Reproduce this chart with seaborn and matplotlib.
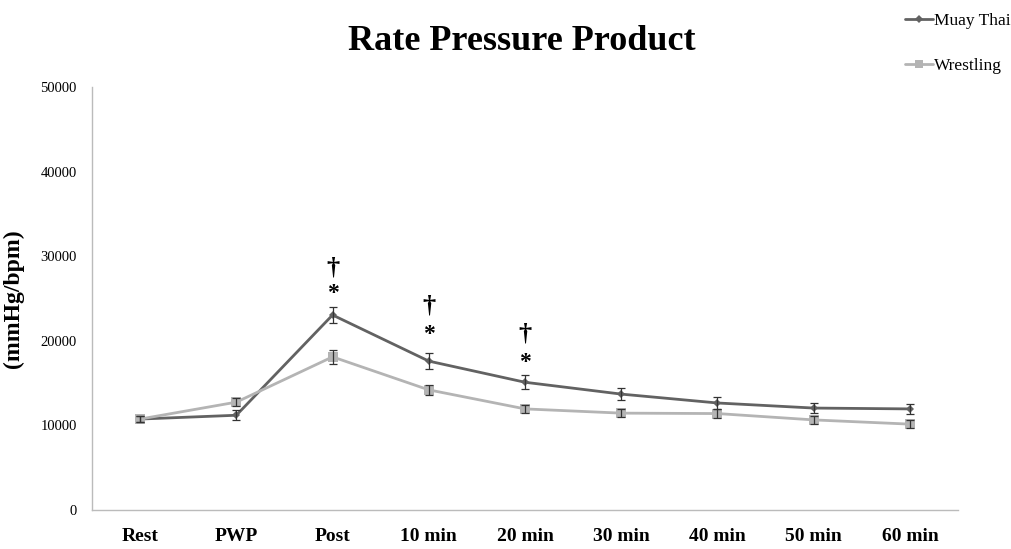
import numpy as np
import pandas as pd
import seaborn as sns
import matplotlib.pyplot as plt

# data
times = ["Rest", "PWP", "Post", "10 min", "20 min", "30 min", "40 min", "50 min", "60 min"]
muay_thai = [10750, 11200, 23050, 17600, 15100, 13700, 12650, 12050, 11950]
muay_thai_se = [400, 600, 900, 900, 800, 700, 700, 600, 600]
wrestling = [10750, 12750, 18100, 14200, 11950, 11450, 11400, 10650, 10150]
wrestling_se = [400, 500, 800, 600, 500, 500, 500, 500, 450]
marked = ["Post", "10 min", "20 min"]
star_y = [25650, 20800, 17400]
dagger_y = [28600, 24100, 20800]

sns.set_theme(style="white")
plt.rcParams["font.family"] = ["Liberation Serif", "DejaVu Serif"]
plt.rcParams["text.color"] = "black"
plt.rcParams["axes.labelcolor"] = "black"
plt.rcParams["xtick.labelcolor"] = "black"
plt.rcParams["ytick.labelcolor"] = "black"

pos = np.arange(len(times))
df = pd.DataFrame({
    "pos": np.concatenate([pos, pos]),
    "RPP": muay_thai + wrestling,
    "se": muay_thai_se + wrestling_se,
    "Group": ["Muay Thai"] * len(times) + ["Wrestling"] * len(times),
})
colors = {"Muay Thai": "#626262", "Wrestling": "#b4b4b4"}
markers = {"Muay Thai": "D", "Wrestling": "s"}

fig = plt.figure(figsize=(10.12, 5.49), dpi=100)
ax = fig.add_axes([92 / 1012, 39 / 549, 866 / 1012, 423 / 549])

for name, grp in df.groupby("Group"):
    ax.errorbar(grp["pos"], grp["RPP"], yerr=grp["se"], fmt="none",
                ecolor="#333333", elinewidth=0.9, capsize=3, capthick=0.9, zorder=3)

sns.lineplot(data=df, x="pos", y="RPP", hue="Group", style="Group",
             palette=colors, markers=markers, dashes=False, linewidth=2,
             markersize=5, markeredgewidth=0, ax=ax, legend=False, zorder=2)
# marker sizes per series
for line in ax.get_lines():
    if line.get_marker() == "s":
        line.set_markersize(7)
    elif line.get_marker() == "D":
        line.set_markersize(4)

for t, sy, dy in zip(marked, star_y, dagger_y):
    i = times.index(t)
    ax.text(i, sy, "*", ha="center", va="center", fontsize=17, fontweight="bold")
    ax.text(i, dy, "\u2020", ha="center", va="center", fontsize=19, fontweight="bold")

ax.set_xlim(-0.5, len(times) - 0.5)
ax.set_ylim(0, 50000)
ax.set_yticks(range(0, 50001, 10000))
ax.set_yticklabels([str(v) for v in range(0, 50001, 10000)], fontsize=10.5)
ax.set_xticks(pos)
ax.set_xticklabels(times, fontsize=14, fontweight="bold")
ax.set_xticks(np.arange(-0.5, len(times)), minor=True)
ax.tick_params(axis="x", which="major", length=0, pad=13)
ax.tick_params(axis="x", which="minor", length=6, color="#bbbbbb", width=1, direction="out")
ax.tick_params(axis="y", length=5, color="#bbbbbb", width=1, direction="out", pad=6)
ax.set_xlabel("")
ax.set_ylabel("(mmHg/bpm)", fontsize=17, fontweight="bold", labelpad=12)

for side in ["top", "right"]:
    ax.spines[side].set_visible(False)
for side in ["left", "bottom"]:
    ax.spines[side].set_color("#bbbbbb")
    ax.spines[side].set_linewidth(1)

fig.text(522 / 1012, 1 - 42 / 549, "Rate Pressure Product", ha="center", va="center",
         fontsize=26, fontweight="bold")

handles = [plt.Line2D([], [], color=colors[g], marker=markers[g], linewidth=2,
                      markersize=4 if g == "Muay Thai" else 6, markeredgewidth=0)
           for g in ["Muay Thai", "Wrestling"]]
fig.legend(handles, ["Muay Thai", "Wrestling"], loc="upper left",
           bbox_to_anchor=(898 / 1012, 1 - 6 / 549), frameon=False, fontsize=12.5,
           handlelength=1.6, handletextpad=0.1, labelspacing=1.65, borderaxespad=0)

fig.savefig("out.png", dpi=100)
plt.close(fig)
